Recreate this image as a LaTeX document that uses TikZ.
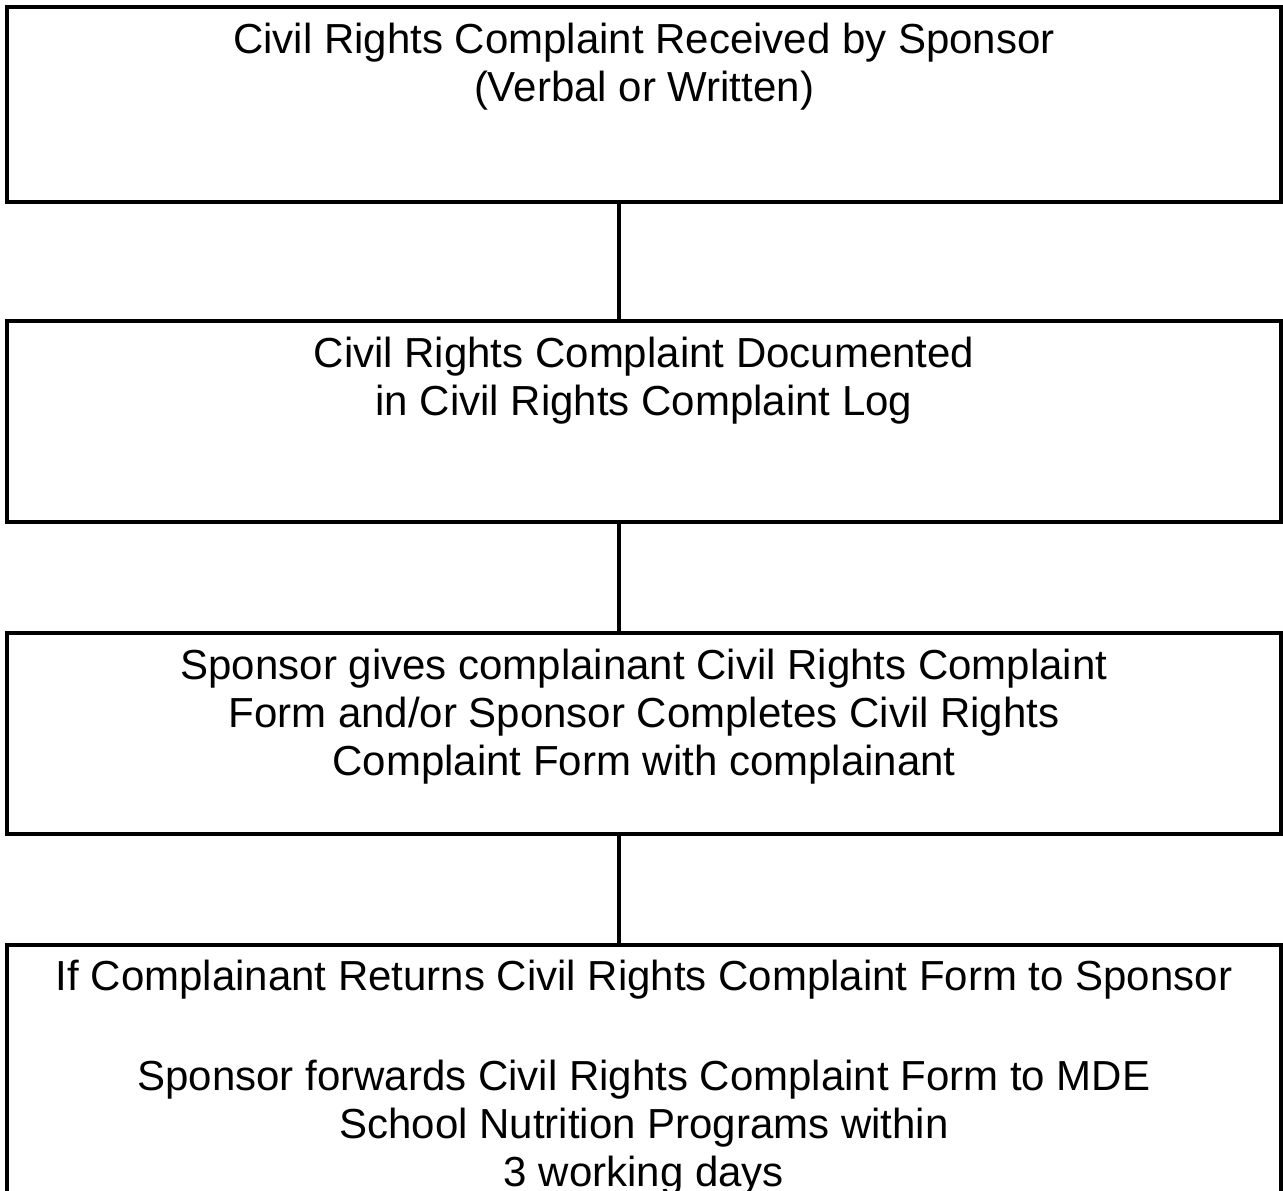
\documentclass[tikz,border=0pt]{standalone}
\usepackage{fontspec}
\setmainfont{Liberation Sans}
\begin{document}
\begin{tikzpicture}[x=1pt,y=-1pt,
  box/.style={draw=black, line width=4pt, rectangle, minimum width=1274pt, inner sep=0pt},
  txt/.style={anchor=north, inner sep=0pt, align=center, font=\fontsize{42}{48}\selectfont},
  link/.style={draw=black, line width=4pt}]
\clip (0,0) rectangle (1283,1191);
\fill[white] (0,0) rectangle (1283,1191);
\node[box, minimum height=195pt] (b1) at (644,104.5) {};
\node[box, minimum height=201pt] (b2) at (644,421.5) {};
\node[box, minimum height=201pt] (b3) at (644,733.5) {};
\node[box, minimum height=320pt] (b4) at (644,1105) {};
\coordinate (cx) at (619,0);
\node[txt] (t1) at ([yshift=-18pt]b1.north) {Civil Rights Complaint Received by Sponsor\\(Verbal or Written)};
\node[txt] (t2) at ([yshift=-18pt]b2.north) {Civil Rights Complaint Documented\\in Civil Rights Complaint Log};
\node[txt] (t3) at ([yshift=-18pt]b3.north) {Sponsor gives complainant Civil Rights Complaint\\Form and/or Sponsor Completes Civil Rights\\Complaint Form with complainant};
\node[txt] (t4) at ([yshift=-17pt]b4.north) {If Complainant Returns Civil Rights Complaint Form to Sponsor\\[52pt]Sponsor forwards Civil Rights Complaint Form to MDE\\School Nutrition Programs within\\3 working days};
\draw[link] (b1.south -| cx) -- (b2.north -| cx);
\draw[link] (b2.south -| cx) -- (b3.north -| cx);
\draw[link] (b3.south -| cx) -- (b4.north -| cx);
\end{tikzpicture}
\end{document}
